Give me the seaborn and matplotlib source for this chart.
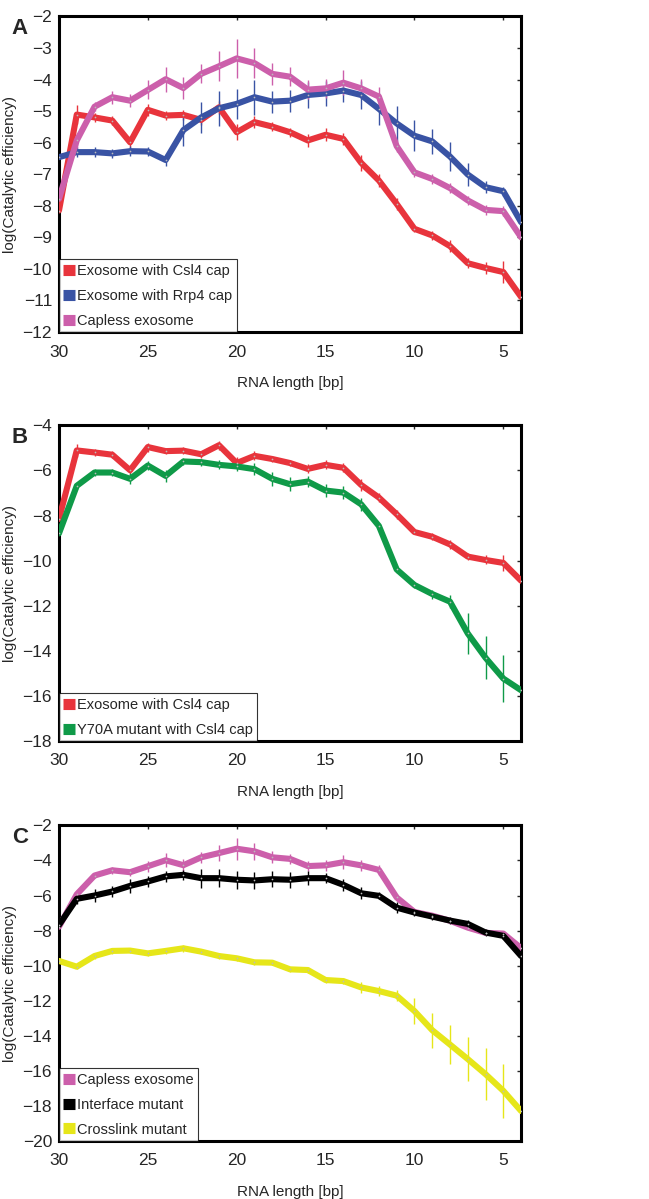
import numpy as np
import pandas as pd
import matplotlib
matplotlib.use('Agg')
import matplotlib.pyplot as plt
import seaborn as sns

# RNA length axis (bp), shared by all panels
length = list(range(30, 3, -1))

# log(catalytic efficiency)
csl4 = [-8.15, -5.11, -5.2, -5.3, -5.99, -4.96, -5.14, -5.12, -5.28, -4.88,
        -5.67, -5.35, -5.49, -5.67, -5.93, -5.75, -5.88, -6.64, -7.2, -7.94,
        -8.73, -8.94, -9.28, -9.82, -9.97, -10.1, -10.89]
csl4_err = [0.15, 0.3, 0.15, 0.15, 0.2, 0.2, 0.15, 0.15, 0.15, 0.2,
            0.25, 0.2, 0.15, 0.15, 0.2, 0.2, 0.2, 0.25, 0.2, 0.2,
            0.1, 0.15, 0.2, 0.15, 0.2, 0.35, 0.35]
rrp4 = [-6.46, -6.3, -6.3, -6.34, -6.27, -6.28, -6.55, -5.6, -5.2, -4.91,
        -4.77, -4.56, -4.7, -4.67, -4.49, -4.44, -4.35, -4.49, -4.93, -5.39,
        -5.78, -5.96, -6.44, -7.01, -7.41, -7.54, -8.52]
rrp4_err = [0.1, 0.15, 0.15, 0.15, 0.15, 0.15, 0.2, 0.5, 0.5, 0.55,
            0.47, 0.55, 0.35, 0.35, 0.4, 0.4, 0.35, 0.45, 0.5, 0.55,
            0.5, 0.4, 0.45, 0.35, 0.2, 0.15, 0.3]
capless = [-7.78, -5.93, -4.86, -4.56, -4.67, -4.33, -3.99, -4.27, -3.82, -3.58,
           -3.33, -3.48, -3.82, -3.91, -4.32, -4.28, -4.1, -4.28, -4.54, -6.11,
           -6.94, -7.15, -7.44, -7.83, -8.13, -8.17, -9.0]
capless_err = [0.1, 0.25, 0.15, 0.2, 0.2, 0.3, 0.4, 0.35, 0.3, 0.47,
               0.63, 0.47, 0.35, 0.3, 0.3, 0.3, 0.4, 0.3, 0.3, 0.2,
               0.15, 0.15, 0.15, 0.15, 0.15, 0.15, 0.15]
y70a = [-8.79, -6.68, -6.09, -6.09, -6.37, -5.78, -6.24, -5.6, -5.63, -5.75,
        -5.82, -5.94, -6.37, -6.61, -6.49, -6.89, -6.98, -7.5, -8.46, -10.39,
        -11.08, -11.48, -11.82, -13.23, -14.31, -15.23, -15.75]
y70a_err = [0.15, 0.15, 0.15, 0.15, 0.25, 0.2, 0.25, 0.15, 0.15, 0.2,
            0.2, 0.25, 0.3, 0.3, 0.25, 0.3, 0.3, 0.3, 0.15, 0.15,
            0.15, 0.2, 0.3, 0.9, 0.95, 1.05, 1.7]
interface = [-7.68, -6.19, -6.0, -5.77, -5.45, -5.2, -4.91, -4.82, -5.01, -5.01,
             -5.1, -5.14, -5.07, -5.1, -5.01, -5.01, -5.39, -5.87, -6.02, -6.69,
             -6.97, -7.2, -7.43, -7.62, -8.11, -8.3, -9.45]
interface_err = [0.2, 0.3, 0.35, 0.3, 0.4, 0.3, 0.3, 0.3, 0.55, 0.5,
                 0.5, 0.5, 0.45, 0.45, 0.4, 0.3, 0.35, 0.35, 0.2, 0.3,
                 0.2, 0.2, 0.2, 0.2, 0.2, 0.2, 0.2]
crosslink = [-9.73, -10.06, -9.45, -9.16, -9.14, -9.3, -9.16, -9.01, -9.2, -9.45,
             -9.58, -9.81, -9.83, -10.21, -10.25, -10.82, -10.88, -11.24, -11.45, -11.71,
             -12.59, -13.68, -14.5, -15.33, -16.19, -17.14, -18.29]
crosslink_err = [0.15, 0.15, 0.15, 0.15, 0.15, 0.15, 0.15, 0.2, 0.15, 0.15,
                 0.15, 0.15, 0.15, 0.15, 0.15, 0.15, 0.15, 0.3, 0.3, 0.3,
                 0.75, 1.0, 1.1, 1.25, 1.5, 1.55, 1.9]

colors = {
    'Exosome with Csl4 cap': '#e8343c',
    'Exosome with Rrp4 cap': '#3953a4',
    'Capless exosome': '#cc5fab',
    'Y70A mutant with Csl4 cap': '#0f9a48',
    'Interface mutant': '#000000',
    'Crosslink mutant': '#e6e619',
}

panels = [
    ('A', [('Exosome with Csl4 cap', csl4, csl4_err),
           ('Exosome with Rrp4 cap', rrp4, rrp4_err),
           ('Capless exosome', capless, capless_err)],
     (-12, -2), np.arange(-12, -1, 1), 0.7231),
    ('B', [('Exosome with Csl4 cap', csl4, csl4_err),
           ('Y70A mutant with Csl4 cap', y70a, y70a_err)],
     (-18, -4), np.arange(-18, -3, 2), 0.382),
    ('C', [('Capless exosome', capless, capless_err),
           ('Interface mutant', interface, interface_err),
           ('Crosslink mutant', crosslink, crosslink_err)],
     (-20, -2), np.arange(-20, -1, 2), 0.0484),
]

sns.set_style('white')
plt.rcParams['font.family'] = ['Liberation Sans', 'DejaVu Sans']

fig = plt.figure(figsize=(6.49, 11.99), dpi=100)

for letter, series, ylim, yticks, bottom in panels:
    ax = fig.add_axes([0.0909, bottom, 0.712, 0.2632])
    frames = []
    for name, vals, err in series:
        frames.append(pd.DataFrame({'length': length, 'value': vals,
                                    'err': err, 'series': name}))
    df = pd.concat(frames, ignore_index=True)
    order = [s[0] for s in series]
    for name in order:
        sub = df[df['series'] == name]
        ax.errorbar(sub['length'], sub['value'], yerr=sub['err'], fmt='none',
                    ecolor=colors[name], elinewidth=1.0, capsize=0, zorder=2)
    sns.lineplot(data=df, x='length', y='value', hue='series', hue_order=order,
                 palette=colors, linewidth=4.4, ax=ax, legend=True, zorder=3,
                 estimator=None, sort=False)
    ax.scatter(df['length'], df['value'], s=1.5, color='#bbbbbb', zorder=4,
               linewidths=0)

    ax.set_xlim(30, 4)
    ax.set_ylim(*ylim)
    ax.set_xticks([30, 25, 20, 15, 10, 5])
    ax.set_yticks(yticks)
    ax.set_yticklabels([f'\u2212{abs(t)}' for t in yticks])
    ax.tick_params(direction='in', length=3, width=1, labelsize=12.5,
                   top=True, right=True)
    ax.tick_params(axis='x', pad=9)
    ax.tick_params(axis='y', pad=5)
    for sp in ax.spines.values():
        sp.set_linewidth(2.2)
        sp.set_color('black')
    ax.set_xlabel('RNA length [bp]', fontsize=11, labelpad=12)
    ax.set_ylabel('log(Catalytic efficiency)', fontsize=11, labelpad=4)

    leg = ax.legend(loc='lower left', frameon=True, fancybox=False,
                    handlelength=0.8, handletextpad=0.15, borderpad=0.3,
                    borderaxespad=0.0, labelspacing=0.75, fontsize=10.5)
    leg.get_frame().set_edgecolor('black')
    leg.get_frame().set_linewidth(0.8)
    for h in leg.get_lines():
        h.set_linewidth(8)
        h.set_solid_capstyle('butt')

    fig.text(0.018, bottom + 0.2632 - 0.001, letter, fontsize=16,
             fontweight='bold', va='top', ha='left')

fig.savefig('out.png', dpi=100)
